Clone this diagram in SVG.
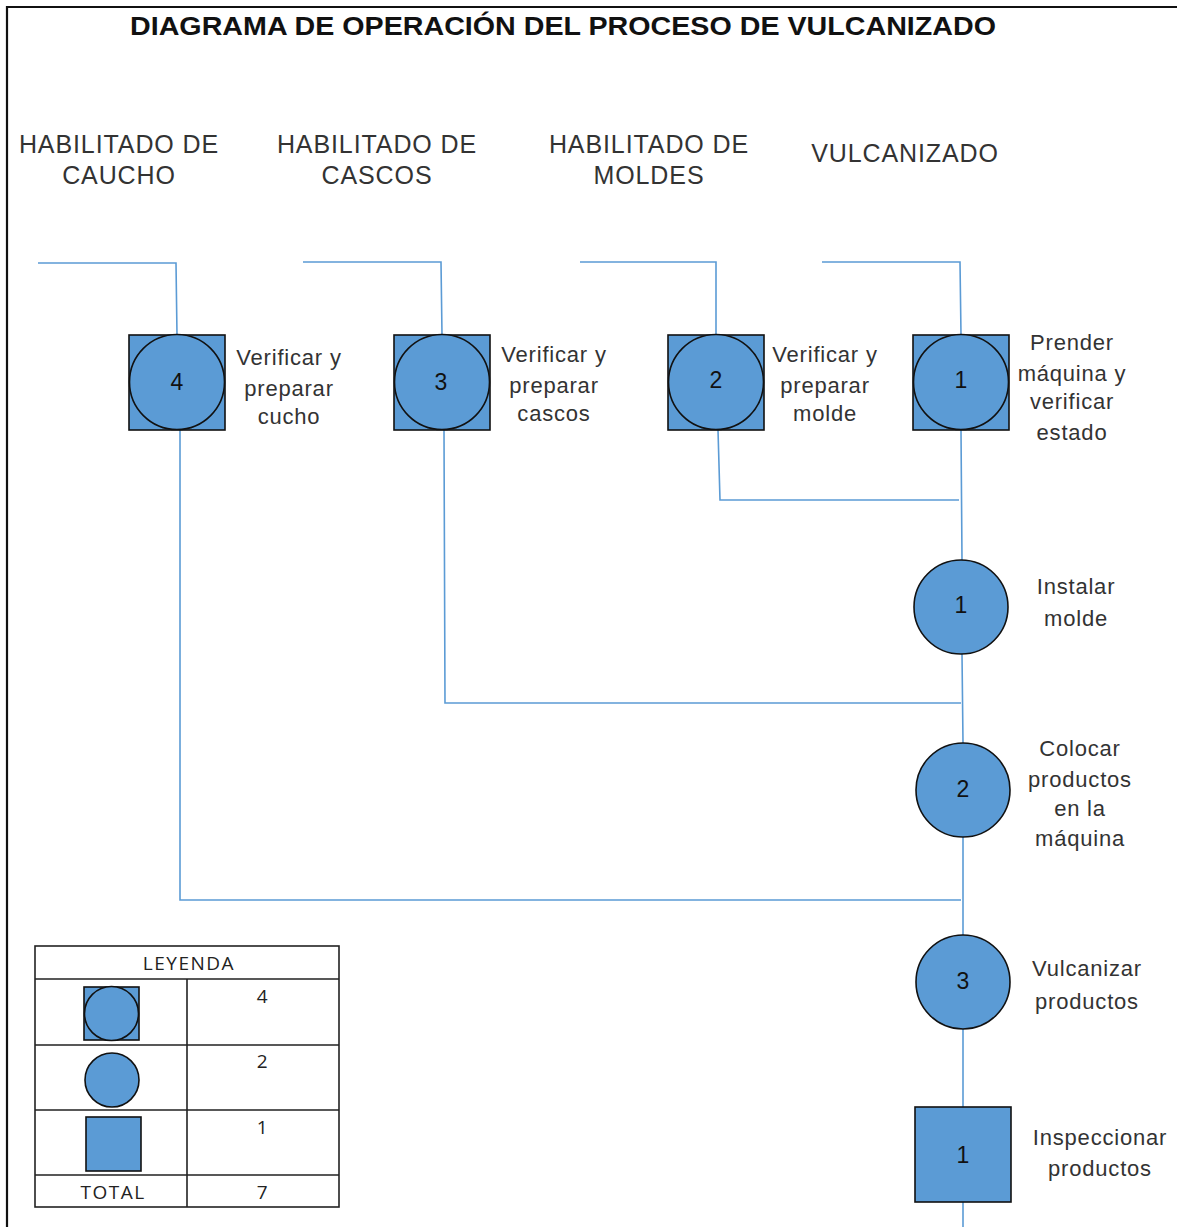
<svg xmlns="http://www.w3.org/2000/svg" width="1177" height="1227" viewBox="0 0 1177 1227">
<style>
.t{font-family:"Liberation Sans",Arial,sans-serif;fill:#222;text-anchor:middle}
.title{font-size:26px;font-weight:bold;fill:#111}
.lane{font-size:25px;fill:#333;letter-spacing:0.9px}
.lbl{font-size:22px;fill:#333;letter-spacing:0.8px}
.num{font-size:23px;fill:#111}
.leg{font-family:"Open Sans","Liberation Sans",sans-serif;font-size:19px;fill:#222;text-anchor:middle;letter-spacing:1.5px}
.shape{fill:#5b9bd5;stroke:#111;stroke-width:1.6}
.conn{fill:none;stroke:#5b9bd5;stroke-width:1.6}
.grid{fill:none;stroke:#222;stroke-width:1.6}
</style>
<rect width="1177" height="1227" fill="#fff"/>
<path d="M7,1227 V7 H1177" fill="none" stroke="#111" stroke-width="2.2"/>
<text class="t title" x="563" y="35" textLength="866" lengthAdjust="spacingAndGlyphs">DIAGRAMA DE OPERACIÓN DEL PROCESO DE VULCANIZADO</text>
<g id="lanes">
<text class="t lane" x="119" y="153">HABILITADO DE</text>
<text class="t lane" x="119" y="184">CAUCHO</text>
<text class="t lane" x="377" y="153">HABILITADO DE</text>
<text class="t lane" x="377" y="184">CASCOS</text>
<text class="t lane" x="649" y="153">HABILITADO DE</text>
<text class="t lane" x="649" y="184">MOLDES</text>
<text class="t lane" x="905" y="162">VULCANIZADO</text>
</g>
<g id="connectors">
<path class="conn" d="M38,263 H176 L177,335"/>
<path class="conn" d="M303,262 H441 L442,335"/>
<path class="conn" d="M580,262 H716 V335"/>
<path class="conn" d="M822,262 H960 L961,335"/>
<path class="conn" d="M180,430 V900 H961"/>
<path class="conn" d="M444,430 L445,703 H961"/>
<path class="conn" d="M718,430 L720,500 H959"/>
<path class="conn" d="M961,430 L962,560 M962,654 L963,743 M963,837 V935 M963,1029 V1107 M963,1202 V1227"/>
</g>
<g id="n4">
<rect class="shape" x="129" y="335" width="96" height="95"/>
<circle class="shape" cx="177" cy="382" r="47.5"/>
<text class="t num" x="177" y="390">4</text>
<text class="t lbl" x="289" y="365">Verificar y</text>
<text class="t lbl" x="289" y="396">preparar</text>
<text class="t lbl" x="289" y="424">cucho</text>
</g>
<g id="n3">
<rect class="shape" x="394" y="335" width="96" height="95"/>
<circle class="shape" cx="442" cy="382" r="47.5"/>
<text class="t num" x="441" y="390">3</text>
<text class="t lbl" x="554" y="362">Verificar y</text>
<text class="t lbl" x="554" y="393">preparar</text>
<text class="t lbl" x="554" y="421">cascos</text>
</g>
<g id="n2">
<rect class="shape" x="668" y="335" width="96" height="95"/>
<circle class="shape" cx="716" cy="382" r="47.5"/>
<text class="t num" x="716" y="388">2</text>
<text class="t lbl" x="825" y="362">Verificar y</text>
<text class="t lbl" x="825" y="393">preparar</text>
<text class="t lbl" x="825" y="421">molde</text>
</g>
<g id="n1">
<rect class="shape" x="913" y="335" width="96" height="95"/>
<circle class="shape" cx="961" cy="382" r="47.5"/>
<text class="t num" x="961" y="388">1</text>
<text class="t lbl" x="1072" y="350">Prender</text>
<text class="t lbl" x="1072" y="381">máquina y</text>
<text class="t lbl" x="1072" y="409">verificar</text>
<text class="t lbl" x="1072" y="440">estado</text>
</g>
<g id="op1">
<circle class="shape" cx="961" cy="607" r="47"/>
<text class="t num" x="961" y="613">1</text>
<text class="t lbl" x="1076" y="594">Instalar</text>
<text class="t lbl" x="1076" y="626">molde</text>
</g>
<g id="op2">
<circle class="shape" cx="963" cy="790" r="47"/>
<text class="t num" x="963" y="797">2</text>
<text class="t lbl" x="1080" y="756">Colocar</text>
<text class="t lbl" x="1080" y="787">productos</text>
<text class="t lbl" x="1080" y="816">en la</text>
<text class="t lbl" x="1080" y="846">máquina</text>
</g>
<g id="op3">
<circle class="shape" cx="963" cy="982" r="47"/>
<text class="t num" x="963" y="989">3</text>
<text class="t lbl" x="1087" y="976">Vulcanizar</text>
<text class="t lbl" x="1087" y="1009">productos</text>
</g>
<g id="insp1">
<rect class="shape" x="915" y="1107" width="96" height="95"/>
<text class="t num" x="963" y="1163">1</text>
<text class="t lbl" x="1100" y="1145">Inspeccionar</text>
<text class="t lbl" x="1100" y="1176">productos</text>
</g>
<g id="legend">
<rect class="grid" x="35" y="946" width="304" height="261"/>
<path class="grid" d="M35,979 H339 M35,1045 H339 M35,1110 H339 M35,1175 H339 M187,979 V1207"/>
<text class="leg" x="189" y="970">LEYENDA</text>
<rect class="shape" x="84" y="987" width="55" height="53"/>
<circle class="shape" cx="111.5" cy="1013.5" r="27"/>
<circle class="shape" cx="112" cy="1080" r="27"/>
<rect class="shape" x="86" y="1117" width="55" height="54"/>
<text class="leg" x="263" y="1003">4</text>
<text class="leg" x="263" y="1068">2</text>
<text class="leg" x="263" y="1134">1</text>
<text class="leg" x="113" y="1199">TOTAL</text>
<text class="leg" x="263" y="1199">7</text>
</g>
</svg>
